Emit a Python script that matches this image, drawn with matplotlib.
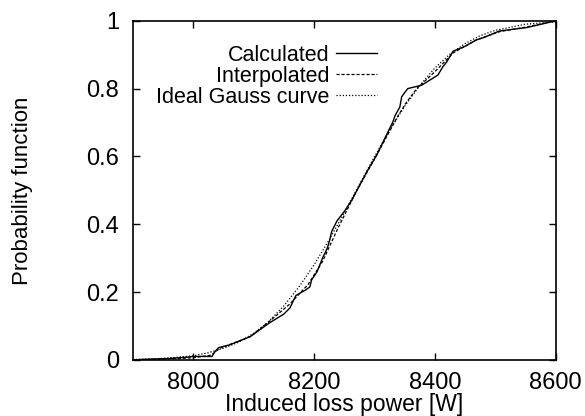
# -*- coding: utf-8 -*-
# Probability function of induced loss power: calculated, interpolated, Gauss
import matplotlib
matplotlib.use('Agg')
import matplotlib.pyplot as plt

# ============================   Data   ===============
calc_x = [7900, 7930, 7960, 7990, 8000, 8031, 8036, 8042, 8060, 8094, 8127,
          8150, 8160, 8170, 8185, 8193, 8196, 8205, 8214, 8222, 8226, 8229,
          8238, 8251, 8262, 8271, 8289, 8304, 8320, 8330, 8334, 8342, 8345,
          8355, 8378, 8405, 8413, 8420, 8430, 8450, 8469, 8480, 8507, 8552,
          8600]
calc_y = [0.0, 0.002, 0.004, 0.008, 0.010, 0.010, 0.024, 0.036, 0.044, 0.068,
          0.110, 0.135, 0.153, 0.190, 0.205, 0.215, 0.236, 0.26, 0.30, 0.33,
          0.354, 0.378, 0.41, 0.44, 0.47, 0.50, 0.56, 0.605, 0.664, 0.70,
          0.72, 0.746, 0.776, 0.80, 0.81, 0.84, 0.864, 0.88, 0.91, 0.925,
          0.944, 0.95, 0.97, 0.98, 1.0]

interp_x = [7900, 7960, 8000, 8030, 8044, 8060, 8094, 8127, 8160, 8190, 8214,
            8240, 8271, 8304, 8339, 8353, 8370, 8400, 8430, 8469, 8507, 8552,
            8600]
interp_y = [0.0, 0.003, 0.006, 0.014, 0.034, 0.045, 0.068, 0.115, 0.165,
            0.222, 0.29, 0.39, 0.50, 0.605, 0.72, 0.76, 0.80, 0.85, 0.905,
            0.944, 0.968, 0.982, 1.0]

gauss_x = [7900, 7950, 8000, 8025, 8050, 8075, 8100, 8125, 8150, 8175, 8200,
           8225, 8250, 8275, 8300, 8325, 8350, 8375, 8400, 8425, 8450, 8475,
           8500, 8550, 8600]
gauss_y = [0.001, 0.004, 0.012, 0.021, 0.034, 0.052, 0.078, 0.113, 0.159,
           0.215, 0.280, 0.354, 0.434, 0.517, 0.599, 0.677, 0.748, 0.809,
           0.861, 0.902, 0.933, 0.956, 0.972, 0.990, 0.997]

x_ticks = [8000, 8200, 8400, 8600]
y_ticks = [0, 0.2, 0.4, 0.6, 0.8, 1]
y_tick_labels = ['0', '0.2', '0.4', '0.6', '0.8', '1']

# ============================   Plot   ======================================
plt.rcParams['font.family'] = ['Liberation Sans', 'DejaVu Sans']

fig = plt.figure(figsize=(5.85, 4.16), dpi=100)
ax = fig.add_axes([0.227, 0.135, 0.723, 0.815])

ax.plot(calc_x, calc_y, color='black', lw=1.0, ls='-', label='Calculated')
ax.plot(interp_x, interp_y, color='black', lw=0.9, ls=(0, (2.5, 1.5)),
        label='Interpolated')
ax.plot(gauss_x, gauss_y, color='black', lw=0.9, ls=(0, (1, 1.5)),
        label='Ideal Gauss curve')

ax.set_xlim(7900, 8600)
ax.set_ylim(0, 1)
ax.set_xticks(x_ticks)
ax.set_yticks(y_ticks)
ax.set_yticklabels(y_tick_labels)
ax.tick_params(direction='in', length=5, width=1, labelsize=17,
               top=True, right=True)
ax.tick_params(axis='x', pad=9)
ax.tick_params(axis='y', pad=10)
for sp in ax.spines.values():
    sp.set_linewidth(1.2)

ax.set_xlabel('Induced loss power [W]', fontsize=16.5, labelpad=-1)
ax.set_ylabel('Probability function', fontsize=16, labelpad=38)

ax.legend(loc='upper right', bbox_to_anchor=(0.577, 0.93), frameon=False,
          markerfirst=False, fontsize=15.5, handlelength=1.9,
          handletextpad=0.3, labelspacing=0.0, borderpad=0, borderaxespad=0)

fig.savefig('out.png', dpi=100)
